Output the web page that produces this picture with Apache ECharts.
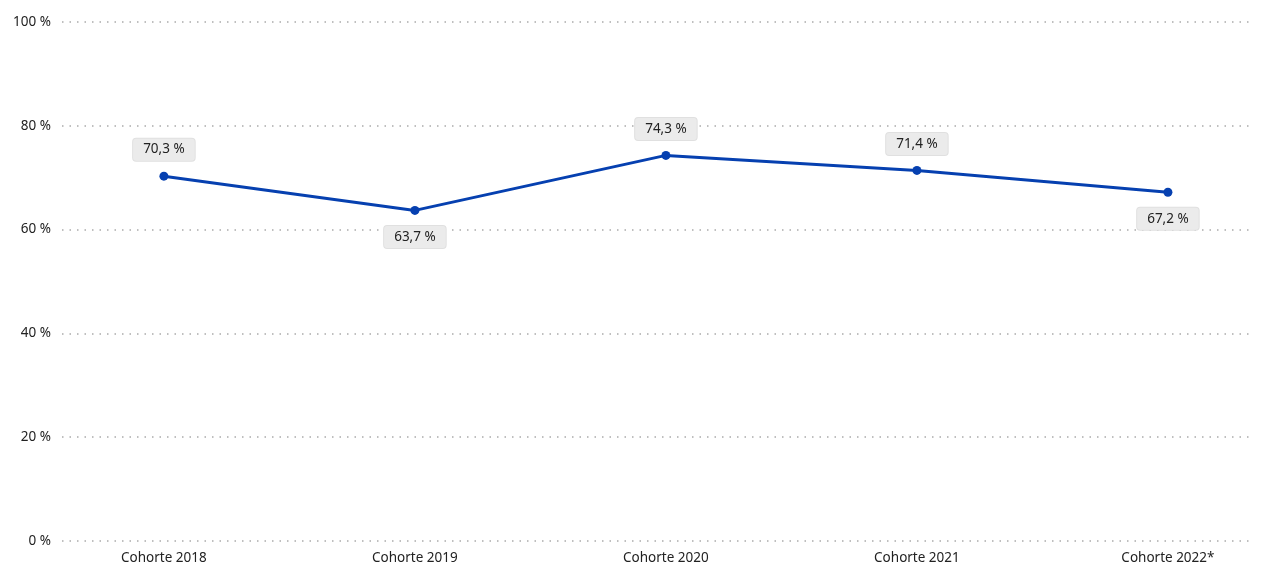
<!DOCTYPE html>
<html>
<head>
<meta charset="utf-8">
<script src="https://cdn.jsdelivr.net/npm/echarts@6/dist/echarts.min.js"></script>
<style>
  html, body { margin: 0; padding: 0; background: #fff; }
  #chart { width: 1261px; height: 562px; }
</style>
</head>
<body>
<div id="chart"></div>
<script>
// cohorts on the x axis
var categories = ['Cohorte 2018', 'Cohorte 2019', 'Cohorte 2020', 'Cohorte 2021', 'Cohorte 2022*']
// share in percent
var values = [70.3, 63.7, 74.3, 71.4, 67.2]
var yTicks = [0, 20, 40, 60, 80, 100]

// labels drawn under the point for these cohorts
var below = [1, 4]

var fmt = function (v) {
  return v.toFixed(1).replace('.', ',') + ' %'
}

var myChart = echarts.init(document.getElementById('chart'))
myChart.setOption({
  backgroundColor: '#fff',
  textStyle: { fontFamily: 'Noto Sans' },
  grid: {
    left: 62,
    right: 11,
    top: 22,
    bottom: 21,
    outerBoundsMode: 'none' // labels may run off the bottom, as in the original
  },
  xAxis: {
    type: 'value',
    // keep the points in from the grid edges like the original
    min: -0.406,
    max: 4.327,
    axisLine: { show: false },
    axisTick: { show: false },
    splitLine: { show: false },
    axisLabel: {
      customValues: categories.map(function (c, i) { return i }),
      formatter: function (v) { return categories[v] },
      color: '#222',
      fontSize: 13.5,
      margin: 10
    }
  },
  yAxis: {
    type: 'value',
    min: yTicks[0],
    max: yTicks[yTicks.length - 1],
    interval: 20,
    axisLine: { show: false },
    axisTick: { show: false },
    axisLabel: {
      formatter: '{value} %',
      color: '#222',
      fontSize: 13.5,
      margin: 11
    },
    splitLine: {
      lineStyle: {
        color: '#aaa',
        width: 1.5,
        type: [1.5, 6]
      }
    }
  },
  series: [{
    type: 'line',
    data: values.map(function (v, i) {
      return {
        value: [i, v],
        label: { position: below.indexOf(i) >= 0 ? 'bottom' : 'top' }
      }
    }),
    symbol: 'circle',
    symbolSize: 9,
    lineStyle: { color: '#0640b0', width: 3 },
    itemStyle: { color: '#0640b0' },
    label: {
      show: true,
      distance: 11,
      formatter: function (p) { return fmt(p.value[1]) },
      color: '#222',
      fontSize: 13.5,
      backgroundColor: '#ebebeb',
      borderColor: '#e0e0e0',
      borderWidth: 1,
      borderRadius: 3,
      padding: [4, 10]
    },
    silent: true
  }]
})
</script>
</body>
</html>
